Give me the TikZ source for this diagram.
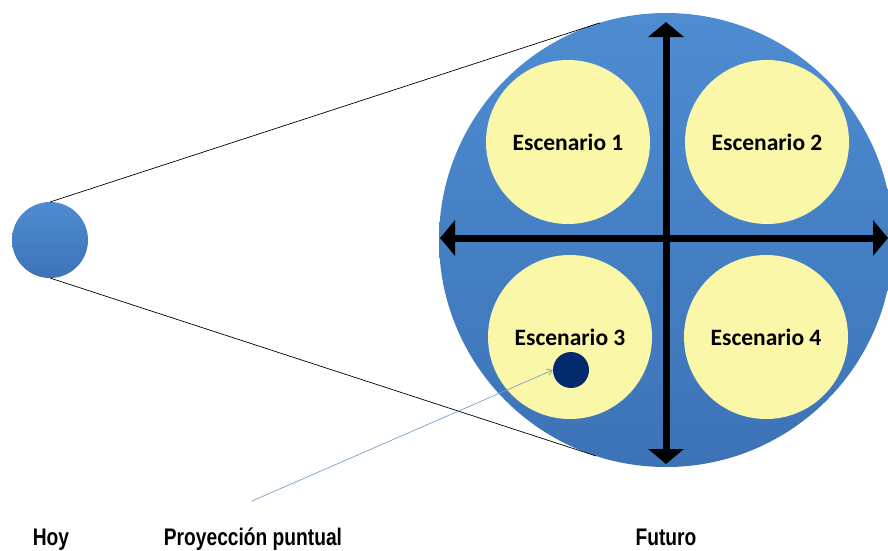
\documentclass[tikz,border=0pt]{standalone}
\usepackage{fontspec}
\setmainfont{Carlito}
\newfontfamily\labelfont{Liberation Sans}[FakeStretch=0.8]
\usetikzlibrary{arrows.meta}
\definecolor{bigtop}{RGB}{78,140,210}
\definecolor{bigbot}{RGB}{60,115,182}
\definecolor{scen}{RGB}{251,247,168}
\definecolor{dotblue}{RGB}{4,42,110}
\definecolor{pointerblue}{RGB}{120,160,200}
\begin{document}
\begin{tikzpicture}[x=1pt,y=-1pt,
  globe/.style={circle, inner sep=0pt, outer sep=0pt, top color=bigtop, bottom color=bigbot},
  scenario/.style={circle, inner sep=0pt, outer sep=0pt, fill=scen, minimum size=164pt,
    font=\bfseries\fontsize{23.5}{28}\selectfont},
  tangent/.style={draw=black, line width=0.7pt},
  axisarrow/.style={line width=7pt, {Triangle[length=15pt,width=35pt]}-{Triangle[length=15pt,width=35pt]}},
  pointer/.style={draw=pointerblue, line width=0.7pt, -{Straight Barb[length=5pt,width=7pt]}},
  lab/.style={anchor=base, inner sep=0pt, font=\labelfont\bfseries\fontsize{24}{28}\selectfont}]
\useasboundingbox (0,0) rectangle (888,550);
% globes
\node[globe, minimum size=76pt] (hoy) at (50,240) {};
\node[globe, minimum size=454pt] (fut) at (666,240) {};
% tangent lines
\draw[tangent] (hoy.north) -- (fut.107.9);
\draw[tangent] (hoy.south) -- (fut.252.1);
% scenarios
\node[scenario] (s1) at (568,142) {Escenario 1};
\node[scenario] (s2) at (767,142) {Escenario 2};
\node[scenario] (s3) at (570,337) {Escenario 3};
\node[scenario] (s4) at (766,337) {Escenario 4};
% axes
\coordinate (hl) at (440,238);
\coordinate (hr) at (888,238);
\coordinate (vt) at (666,22);
\coordinate (vb) at (666,464);
\draw[axisarrow] (hl) -- (hr);
\draw[axisarrow] (vt) -- (vb);
% point projection
\node[circle, fill=dotblue, inner sep=0pt, minimum size=36pt] (dot) at (571,370) {};
\coordinate (ps) at (252,501);
\draw[pointer] (ps) -- (dot.west);
% labels
\node[lab] (lhoy) at (51,545) {Hoy};
\node[lab] (lproy) at (253,545) {Proyección puntual};
\node[lab] (lfut) at (666,545) {Futuro};
\end{tikzpicture}
\end{document}
